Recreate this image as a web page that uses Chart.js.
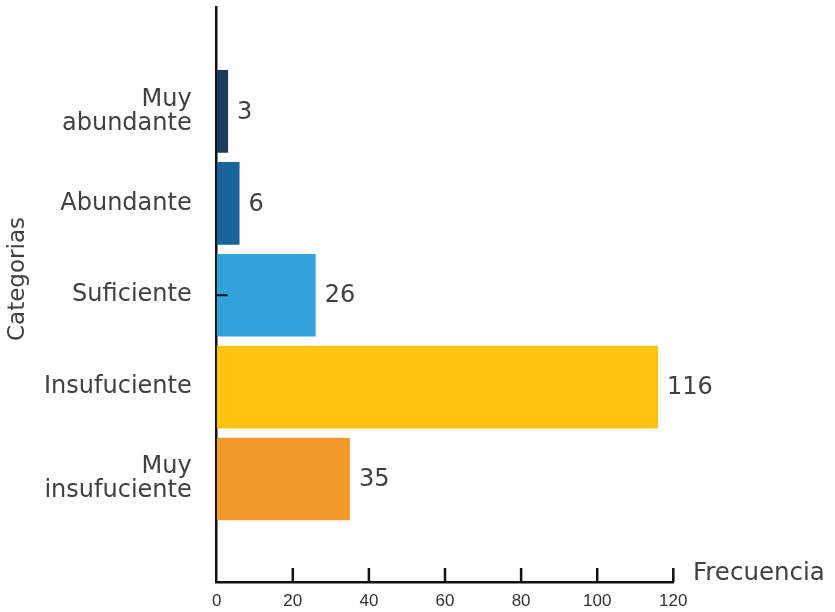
<!DOCTYPE html>
<html>
<head>
<meta charset="utf-8">
<script src="https://cdn.jsdelivr.net/npm/chart.js@4/dist/chart.umd.min.js"></script>
<style>
  html, body { margin: 0; padding: 0; background: #ffffff; }
  #wrap { width: 835px; height: 612px; position: relative; }
</style>
</head>
<body>
<div id="wrap"><canvas id="chart"></canvas></div>
<script>
// Categories (top to bottom) and their frequencies
const categories = [['Muy', 'abundante'], 'Abundante', 'Suficiente', 'Insufuciente', ['Muy', 'insufuciente']];
const frequencies = [3, 6, 26, 116, 35];
const barColors = ['#1c3c5c', '#18649a', '#33a1dc', '#fcc410', '#f29a29'];
const xTickValues = [0, 20, 40, 60, 80, 100, 120];
const xTitle = 'Frecuencia';
const yTitle = 'Categorias';

const LABEL_FONT = 'DejaVu Sans';
const TEXT_COLOR = '#404040';
const AXIS_COLOR = '#111111';

// Value labels, x-axis tick marks, the single y tick and axis titles
const decorations = {
  id: 'decorations',
  afterDatasetsDraw(chart) {
    const ctx = chart.ctx;
    const xs = chart.scales.x;
    const ys = chart.scales.y;
    const area = chart.chartArea;
    ctx.save();

    // values next to each bar
    const meta = chart.getDatasetMeta(0);
    ctx.font = '24px "' + LABEL_FONT + '"';
    ctx.fillStyle = TEXT_COLOR;
    ctx.textAlign = 'left';
    ctx.textBaseline = 'middle';
    meta.data.forEach((bar, i) => {
      ctx.fillText(String(frequencies[i]), bar.x + 9, bar.y + 1);
    });

    // tick marks rising from the x axis
    ctx.strokeStyle = AXIS_COLOR;
    ctx.lineWidth = 2.5;
    xTickValues.forEach(v => {
      if (v === 0) return;
      const px = xs.getPixelForValue(v);
      ctx.beginPath();
      ctx.moveTo(px, area.bottom);
      ctx.lineTo(px, area.bottom - 14);
      ctx.stroke();
    });

    // small tick on the y axis at "Suficiente"
    const py = ys.getPixelForValue(2);
    ctx.lineWidth = 2;
    ctx.beginPath();
    ctx.moveTo(area.left, py);
    ctx.lineTo(area.left + 11, py);
    ctx.stroke();

    // axis titles
    ctx.fillStyle = TEXT_COLOR;
    ctx.font = '24.5px "' + LABEL_FONT + '"';
    ctx.textAlign = 'left';
    ctx.textBaseline = 'middle';
    ctx.fillText(xTitle, 693, 574);

    ctx.font = '23px "' + LABEL_FONT + '"';
    ctx.translate(18, 279);
    ctx.rotate(-Math.PI / 2);
    ctx.textAlign = 'center';
    ctx.fillText(yTitle, 0, 0);

    ctx.restore();
  }
};

new Chart(document.getElementById('chart'), {
  type: 'bar',
  data: {
    datasets: [{
      data: categories.map((c, i) => ({ x: frequencies[i], y: i })),
      backgroundColor: barColors,
      borderWidth: 0,
      categoryPercentage: 1,
      barPercentage: 0.9
    }]
  },
  options: {
    indexAxis: 'y',
    responsive: true,
    maintainAspectRatio: false,
    animation: false,
    layout: { padding: { top: 7, right: 161.7, left: 0, bottom: 0 } },
    plugins: {
      legend: { display: false },
      tooltip: { enabled: false }
    },
    scales: {
      x: {
        type: 'linear',
        min: 0,
        max: 120,
        offset: false,
        afterBuildTicks: (scale) => { scale.ticks = xTickValues.map(v => ({ value: v })); },
        afterFit: (scale) => {
          scale.height = 30;
          scale.paddingLeft = 0; scale.paddingRight = 0;
        },
        grid: { display: false, drawTicks: false, offset: false },
        border: { display: true, color: AXIS_COLOR, width: 2.5 },
        ticks: {
          padding: 9,
          color: '#333333',
          font: { family: 'Liberation Sans', size: 17 },
          maxRotation: 0,
          autoSkip: false
        }
      },
      y: {
        type: 'linear',
        reverse: true,
        offset: false,
        min: -1.137,
        max: 5.121,
        afterBuildTicks: (scale) => { scale.ticks = categories.map((c, i) => ({ value: i })); },
        afterFit: (scale) => {
          scale.width = 216.7;
          scale.paddingTop = 0; scale.paddingBottom = 0;
        },
        grid: { display: false, drawTicks: false, offset: false },
        border: { display: true, color: AXIS_COLOR, width: 2.5 },
        ticks: {
          padding: 25,
          color: TEXT_COLOR,
          font: { family: LABEL_FONT, size: 24, lineHeight: 1.0 },
          autoSkip: false,
          callback: (value) => categories[value]
        }
      }
    }
  },
  plugins: [decorations]
});
</script>
</body>
</html>
